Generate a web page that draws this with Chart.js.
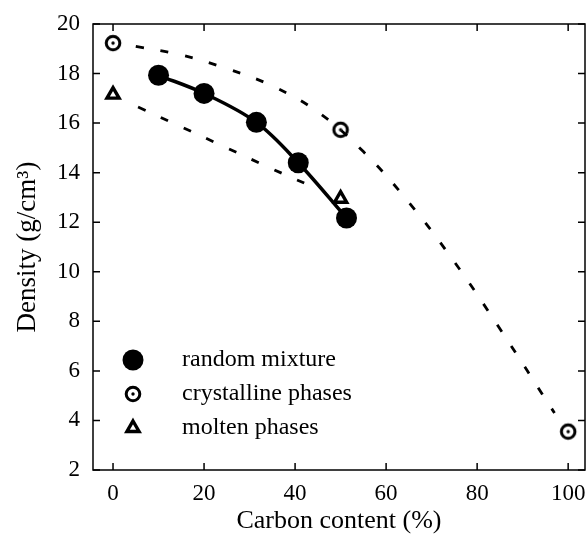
<!DOCTYPE html>
<html>
<head>
<meta charset="utf-8">
<script src="https://cdn.jsdelivr.net/npm/chart.js@4.4.1/dist/chart.umd.min.js"></script>
<style>
  html, body { margin: 0; padding: 0; background: #fff; overflow: hidden; }
  #wrap { width: 587px; height: 540px; }
  canvas { display: block; }
</style>
</head>
<body>
<div id="wrap"><canvas id="densityChart" width="587" height="540"></canvas></div>
<script>
// data
const randomX = [10, 20, 31.5, 40.7, 51.3];
const randomY = [17.93, 17.2, 16.03, 14.4, 12.17];
const crystalX = [0, 50, 100];
const crystalY = [19.23, 15.73, 3.55];
const moltenX = [0, 50];
const moltenY = [17.15, 12.95];
// dashed guide curves
const upperFitX = [5, 15, 25, 35, 45, 55, 65, 75, 85, 97];
const upperFitY = [19.1, 18.75, 18.2, 17.5, 16.45, 14.85, 12.8, 10.4, 7.7, 4.3];
const lowerFitX = [5.5, 15, 25, 35, 43];
const lowerFitY = [16.65, 15.85, 15.0, 14.15, 13.5];
const xTicks = [0, 20, 40, 60, 80, 100];
const yTicks = [2, 4, 6, 8, 10, 12, 14, 16, 18, 20];

const serif = "'Liberation Serif', 'DejaVu Serif', serif";

function pts(xs, ys) {
  return xs.map((x, i) => ({ x: x, y: ys[i] }));
}

// ring with a dot in the middle
function ringMarker() {
  const c = document.createElement('canvas');
  c.width = 22; c.height = 22;
  const g = c.getContext('2d');
  g.strokeStyle = '#000';
  g.lineWidth = 3;
  g.beginPath();
  g.arc(11, 11, 6.8, 0, Math.PI * 2);
  g.stroke();
  g.fillStyle = '#000';
  g.beginPath();
  g.arc(11, 11, 1.7, 0, Math.PI * 2);
  g.fill();
  return c;
}
const ring = ringMarker();

// inward ticks on all four sides + frame
const frameTicks = {
  id: 'frameTicks',
  afterDatasetsDraw(chart) {
    const ctx = chart.ctx;
    const a = chart.chartArea;
    const xs = chart.scales.x, ys = chart.scales.y;
    const len = 7;
    ctx.save();
    ctx.strokeStyle = '#000';
    ctx.lineWidth = 1.5;
    xs.ticks.forEach(t => {
      const px = xs.getPixelForValue(t.value);
      ctx.beginPath();
      ctx.moveTo(px, a.bottom); ctx.lineTo(px, a.bottom - len);
      ctx.moveTo(px, a.top); ctx.lineTo(px, a.top + len);
      ctx.stroke();
    });
    ys.ticks.forEach(t => {
      const py = ys.getPixelForValue(t.value);
      ctx.beginPath();
      ctx.moveTo(a.left, py); ctx.lineTo(a.left + len, py);
      ctx.moveTo(a.right, py); ctx.lineTo(a.right - len, py);
      ctx.stroke();
    });
    ctx.strokeRect(a.left, a.top, a.right - a.left, a.bottom - a.top);
    ctx.restore();
  }
};

// legend drawn inside the plot, lower left
const innerLegend = {
  id: 'innerLegend',
  afterDraw(chart) {
    const ctx = chart.ctx;
    const a = chart.chartArea;
    const markX = a.left + 40;
    const textX = a.left + 89;
    let y = a.bottom - 110;
    ctx.save();
    ctx.font = '24px ' + serif;
    ctx.textBaseline = 'middle';
    chart.data.datasets.forEach(ds => {
      if (!ds.inLegend) return;
      ctx.fillStyle = ds.pointBackgroundColor;
      ctx.strokeStyle = ds.pointBorderColor;
      ctx.lineWidth = ds.pointBorderWidth;
      Chart.helpers.drawPoint(ctx, {
        pointStyle: ds.pointStyle,
        radius: ds.pointRadius,
        borderWidth: ds.pointBorderWidth,
        rotation: 0
      }, markX, y);
      ctx.fillStyle = '#000';
      ctx.fillText(ds.label, textX, y);
      y += 34;
    });
    ctx.restore();
  }
};

new Chart(document.getElementById('densityChart'), {
  type: 'scatter',
  data: {
    datasets: [
      {
        label: 'upper fit',
        data: pts(upperFitX, upperFitY),
        showLine: true,
        borderColor: '#000',
        borderWidth: 2.8,
        borderDash: [8, 17],
        tension: 0.4,
        pointRadius: 0,
        order: 5
      },
      {
        label: 'lower fit',
        data: pts(lowerFitX, lowerFitY),
        showLine: true,
        borderColor: '#000',
        borderWidth: 2.8,
        borderDash: [8, 17],
        tension: 0.4,
        pointRadius: 0,
        order: 5
      },
      {
        label: 'random mixture',
        inLegend: true,
        data: pts(randomX, randomY),
        showLine: true,
        borderColor: '#000',
        borderWidth: 3.5,
        tension: 0.35,
        pointStyle: 'circle',
        pointRadius: 10.5,
        pointBorderWidth: 0,
        pointBackgroundColor: '#000',
        pointBorderColor: '#000',
        order: 1
      },
      {
        label: 'crystalline phases',
        inLegend: true,
        data: pts(crystalX, crystalY),
        showLine: false,
        pointStyle: ring,
        pointRadius: 8,
        pointBorderWidth: 3,
        pointBackgroundColor: '#fff',
        pointBorderColor: '#000',
        order: 2
      },
      {
        label: 'molten phases',
        inLegend: true,
        data: pts(moltenX, moltenY),
        showLine: false,
        pointStyle: 'triangle',
        pointRadius: 7,
        pointBorderWidth: 3.4,
        pointBackgroundColor: '#fff',
        pointBorderColor: '#000',
        order: 2
      }
    ]
  },
  options: {
    responsive: false,
    animation: false,
    layout: { autoPadding: false, padding: { top: 24, right: 2, left: 0, bottom: 0 } },
    plugins: {
      legend: { display: false },
      tooltip: { enabled: false }
    },
    scales: {
      x: {
        type: 'linear',
        min: -4.4,
        max: 103.7,
        afterBuildTicks: s => { s.ticks = xTicks.map(v => ({ value: v })); },
        afterFit: s => { s.height = 70; s.paddingRight = 0; s.paddingLeft = 0; },
        grid: { display: false, drawTicks: false },
        border: { display: false },
        ticks: {
          color: '#000',
          padding: 10,
          font: { family: serif, size: 23 },
          maxRotation: 0
        },
        title: {
          display: true,
          text: 'Carbon content (%)',
          color: '#000',
          font: { family: serif, size: 26 },
          padding: { top: 0, bottom: 3 }
        }
      },
      y: {
        type: 'linear',
        min: 2,
        max: 20,
        afterBuildTicks: s => { s.ticks = yTicks.map(v => ({ value: v })); },
        afterFit: s => { s.width = 93; s.paddingTop = 0; s.paddingBottom = 0; },
        grid: { display: false, drawTicks: false },
        border: { display: false },
        ticks: {
          color: '#000',
          padding: 13,
          font: { family: serif, size: 23 }
        },
        title: {
          display: true,
          text: 'Density (g/cm³)',
          color: '#000',
          font: { family: serif, size: 27 },
          padding: { top: 12, bottom: 0 }
        }
      }
    }
  },
  plugins: [frameTicks, innerLegend]
});
</script>
</body>
</html>
